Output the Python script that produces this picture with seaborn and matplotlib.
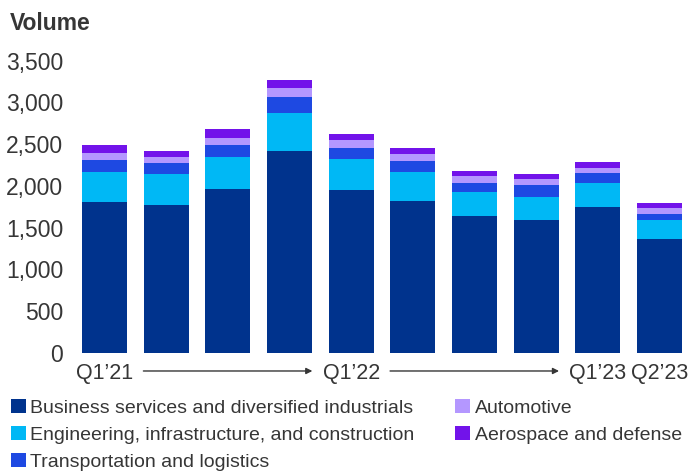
import numpy as np
import pandas as pd
import matplotlib
matplotlib.use("Agg")
import matplotlib.pyplot as plt
from matplotlib.patches import Patch
import seaborn as sns

# Quarterly deal volume by sector (stacked)
quarters = ["Q1’21", "Q2’21", "Q3’21", "Q4’21", "Q1’22", "Q2’22",
            "Q3’22", "Q4’22", "Q1’23", "Q2’23"]
tick_labels = ["Q1’21", "", "", "", "Q1’22", "", "", "", "Q1’23", "Q2’23"]

business = [1811, 1775, 1966, 2422, 1954, 1823, 1643, 1595, 1751, 1367]
engineering = [359, 371, 384, 444, 372, 347, 287, 276, 287, 228]
transportation = [144, 132, 144, 192, 132, 132, 108, 143, 120, 72]
automotive = [84, 72, 84, 107, 96, 84, 84, 72, 60, 72]
aerospace = [96, 72, 108, 96, 72, 72, 60, 60, 72, 60]

series_names = [
    "Business services and diversified industrials",
    "Engineering, infrastructure, and construction",
    "Transportation and logistics",
    "Automotive",
    "Aerospace and defense",
]
series_values = [business, engineering, transportation, automotive, aerospace]
series_colors = ["#00338D", "#00B8F5", "#1E49E2", "#B497FF", "#7213EA"]

sns.set_theme(style="white")
plt.rcParams["font.family"] = ["Liberation Sans", "DejaVu Sans"]
text_color = "#363636"

fig = plt.figure(figsize=(6.94, 4.71), dpi=100)
ax = fig.add_axes([73.7 / 694, 118 / 471, 616.7 / 694, 292.5 / 471])

df = pd.DataFrame({"quarter": quarters})
bottom = np.zeros(len(quarters))
for name, vals, col in zip(series_names, series_values, series_colors):
    df["value"] = vals
    sns.barplot(data=df, x="quarter", y="value", order=quarters,
                bottom=bottom.copy(), color=col, saturation=1,
                width=0.73, errorbar=None, ax=ax, linewidth=0)
    bottom += np.array(vals)

ax.set_xlim(-0.5, len(quarters) - 0.5)
ax.set_ylim(0, 3500)
ax.set_yticks(np.arange(0, 3501, 500))
ax.set_yticklabels([f"{v:,}" for v in range(0, 3501, 500)])
ax.set_xticks(range(len(quarters)))
ax.set_xticklabels(tick_labels)
ax.set_xlabel("")
ax.set_ylabel("")
ax.tick_params(axis="y", length=0, pad=7.7, labelsize=16.5, labelcolor=text_color)
ax.tick_params(axis="x", length=0, pad=7, labelsize=15.5, labelcolor=text_color)
for s in ax.spines.values():
    s.set_visible(False)
ax.grid(False)

# Arrows between the labelled quarters
arrow_y = -0.0615
for start, end in [(0, 4), (4, 8)]:
    ax.annotate("", xy=(end - 0.63, arrow_y), xytext=(start + 0.63, arrow_y),
                xycoords=ax.get_xaxis_transform(),
                textcoords=ax.get_xaxis_transform(),
                arrowprops=dict(arrowstyle="-|>", lw=1.0, color=text_color,
                                mutation_scale=9, shrinkA=0, shrinkB=0),
                annotation_clip=False)

fig.text(10 / 694, 1 - 23 / 471, "Volume", fontsize=16.5, fontweight="bold",
         color=text_color, ha="left", va="center")

handles = [Patch(facecolor=c, edgecolor="none") for c in series_colors]
fig.legend(handles, series_names, loc="upper left",
           bbox_to_anchor=(11 / 694, 1 - 399 / 471), ncol=2, frameon=False,
           fontsize=14, handlelength=0.77, handleheight=0.77,
           handletextpad=0.22, labelspacing=0.45, columnspacing=2.1,
           borderpad=0, borderaxespad=0, labelcolor=text_color)

fig.savefig("out.png", dpi=100)
